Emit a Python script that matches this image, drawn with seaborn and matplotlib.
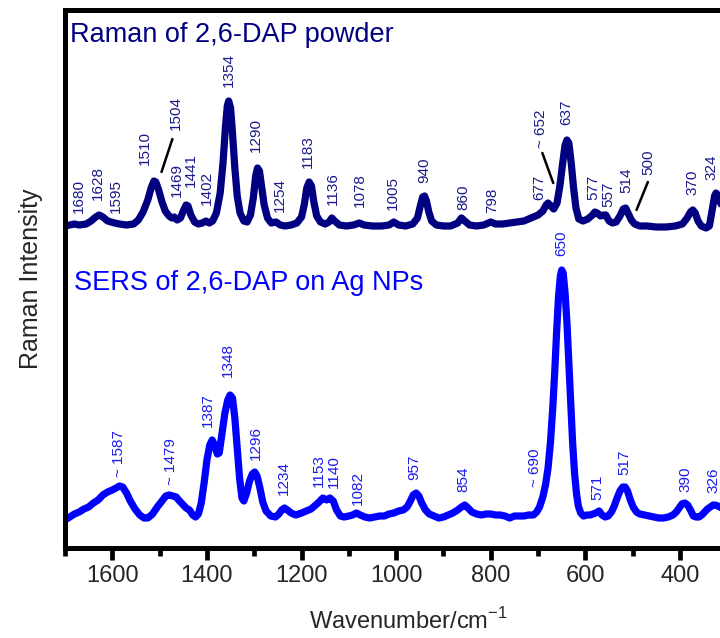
import numpy as np
import pandas as pd
import matplotlib
matplotlib.use("Agg")
import matplotlib.pyplot as plt
from matplotlib.ticker import MultipleLocator
import seaborn as sns

# ---------------- data ----------------
raman_wn = [1700, 1690, 1680, 1670, 1655, 1645, 1635, 1628, 1620, 1610, 1595, 1585, 1570, 1555,
            1545, 1535, 1525, 1518, 1512, 1508, 1502, 1495, 1488, 1480, 1474, 1469, 1463, 1456,
            1450, 1444, 1440, 1434, 1426, 1418, 1410, 1402, 1395, 1388, 1380, 1372, 1366, 1361,
            1357, 1354, 1350, 1346, 1341, 1336, 1330, 1322, 1315, 1308, 1302, 1297, 1293, 1289,
            1284, 1279, 1272, 1264, 1254, 1245, 1235, 1222, 1210, 1200, 1194, 1189, 1184, 1179,
            1174, 1168, 1160, 1150, 1142, 1136, 1130, 1120, 1105, 1090, 1078, 1068, 1050, 1030,
            1015, 1005, 995, 980, 965, 955, 949, 944, 940, 936, 931, 925, 915, 900, 885, 870,
            862, 855, 845, 830, 815, 800, 790, 775, 760, 745, 730, 715, 700, 690, 683, 679, 673,
            667, 660, 654, 648, 643, 639, 635, 630, 625, 620, 614, 605, 595, 585, 580, 575, 568,
            562, 557, 550, 543, 535, 527, 520, 515, 510, 503, 496, 485, 470, 450, 430, 410, 395,
            385, 378, 373, 368, 362, 355, 345, 338, 332, 327, 324, 320, 312, 305]
raman_int = [322, 323, 324, 323, 324, 327, 331, 333, 331, 327, 325, 324, 323, 324,
             328, 336, 348, 360, 367, 366, 358, 346, 337, 332, 330, 331, 328, 330,
             337, 343, 342, 333, 326, 324, 325, 327, 325, 327, 335, 355, 385, 420,
             442, 447, 440, 415, 380, 352, 335, 327, 326, 333, 350, 372, 380, 377,
             360, 343, 330, 325, 326, 323, 322, 323, 325, 331, 344, 360, 366, 362,
             346, 332, 326, 324, 326, 330, 327, 323, 322, 323, 325, 323, 322, 322,
             323, 326, 323, 322, 324, 330, 342, 351, 352, 347, 336, 327, 323, 322, 322, 325,
             330, 327, 323, 322, 323, 326, 324, 324, 325, 326, 327, 330, 333, 337, 343, 345, 342,
             339, 345, 362, 385, 403, 408, 405, 385, 360, 340, 329, 327, 329, 333, 336, 335, 332,
             333, 333, 327, 325, 326, 332, 339, 340, 335, 328, 324, 322, 322, 321, 321, 322, 324,
             330, 336, 338, 335, 327, 322, 320, 322, 338, 352, 355, 353, 342, 330]

sers_wn = [1700, 1690, 1680, 1670, 1660, 1650, 1640, 1630, 1620, 1610, 1600, 1592, 1585, 1578,
           1570, 1562, 1552, 1542, 1533, 1525, 1515, 1505, 1495, 1487, 1480, 1472, 1465, 1458,
           1450, 1444, 1437, 1430, 1424, 1418, 1412, 1406, 1400, 1394, 1389, 1384, 1378, 1374,
           1368, 1362, 1356, 1351, 1346, 1341, 1336, 1331, 1326, 1322, 1316, 1310, 1304, 1299,
           1294, 1288, 1282, 1275, 1265, 1255, 1248, 1242, 1236, 1230, 1222, 1212, 1200, 1190,
           1180, 1170, 1163, 1155, 1147, 1140, 1133, 1126, 1118, 1110, 1100, 1092, 1084, 1076,
           1066, 1056, 1046, 1035, 1025, 1015, 1005, 995, 985, 977, 970, 964, 958, 952, 946,
           938, 930, 920, 910, 900, 890, 880, 870, 862, 855, 848, 840, 830, 820, 810, 800, 790,
           780, 770, 760, 750, 740, 730, 720, 710, 703, 697, 690, 684, 679, 674, 669, 665, 661,
           657, 653, 650, 647, 643, 639, 635, 631, 627, 623, 619, 615, 610, 604, 597, 590, 584,
           578, 571, 565, 558, 552, 545, 539, 533, 527, 521, 516, 511, 505, 499, 492, 485, 475,
           465, 455, 445, 435, 425, 415, 408, 402, 396, 390, 384, 378, 372, 366, 360, 354, 348,
           342, 336, 330, 326, 320, 312, 305]
sers_int = [28, 31, 34, 36, 39, 41, 45, 48, 53, 56, 58, 60, 62, 61,
            55, 47, 39, 33, 30, 30, 34, 41, 47, 52, 53, 52, 51, 47,
            43, 40, 38, 33, 31, 34, 45, 65, 88, 103, 108, 103, 94, 95,
            115, 135, 148, 153, 150, 130, 100, 70, 50, 47, 55, 67, 74, 76,
            72, 60, 46, 37, 32, 31, 34, 38, 40, 38, 35, 33, 35, 37,
            39, 43, 46, 50, 48, 50, 47, 38, 32, 31, 32, 33, 35, 33,
            31, 30, 31, 32, 32, 34, 35, 37, 38, 41, 47, 53, 55, 52, 45,
            38, 34, 32, 30, 31, 33, 35, 38, 41, 43, 40, 36, 34, 33, 34, 34, 33,
            33, 32, 30, 32, 32, 32, 33, 33, 36, 41, 51, 64, 80, 105, 140, 175, 215,
            250, 272, 278, 275, 255, 225, 185, 145, 105, 75, 55, 42, 35, 32, 33, 33, 34,
            35, 37, 33, 31, 32, 36, 42, 50, 57, 61, 61, 57, 48, 41, 36, 34, 33,
            32, 31, 30, 30, 31, 33, 36, 40, 44, 45, 43, 38, 32, 31, 31, 33, 36,
            39, 41, 43, 43, 42, 40, 38]

raman_labels = ['1680', '1628', '1595', '1510', '1504', '1469', '1441', '1402', '1354', '1290',
                '1254', '1183', '1136', '1078', '1005', '940', '860', '798', '677', '~ 652',
                '637', '577', '557', '514', '500', '370', '324']
raman_label_x = [1671, 1630, 1592, 1532, 1466, 1463, 1433, 1401, 1354, 1296,
                 1246, 1187, 1134, 1077, 1008, 940, 859, 797, 697, 693,
                 640, 584, 552, 513, 468, 374, 334]
raman_label_y = [335, 348, 335, 383, 418, 351, 361, 343, 461, 396,
                 336, 380, 343, 341, 338, 365, 338, 335, 348, 400,
                 423, 348, 341, 355, 373, 353, 368]

sers_labels = ['~ 1587', '~ 1479', '1387', '1348', '1296', '1234', '1153', '1140', '1082',
               '957', '854', '~ 690', '650', '571', '517', '390', '326']
sers_label_x = [1586, 1477, 1399, 1356, 1296, 1237, 1163, 1132, 1081,
                961, 857, 707, 651, 575, 517, 388, 330]
sers_label_y = [71, 63, 121, 171, 88, 53, 61, 60, 43,
                68, 56, 61, 292, 48, 73, 56, 55]

# leader lines (x0, y0, x1, y1)
leader_lines = [(1473, 409, 1496, 376), (691, 395, 668, 365), (468, 366, 492, 338)]

x_ticks = [1600, 1400, 1200, 1000, 800, 600, 400]

# ---------------- style ----------------
sns.set_style("white")
plt.rcParams['font.family'] = ['Liberation Sans', 'DejaVu Sans']
plt.rcParams['mathtext.fontset'] = 'custom'
plt.rcParams['mathtext.rm'] = 'Liberation Sans'

navy = '#000080'
blue = '#0000ff'

fig = plt.figure(figsize=(7.2, 6.38), dpi=100)
ax = fig.add_axes([65 / 720, 90 / 638, 686 / 720, 538 / 638])

df_r = pd.DataFrame({'wn': raman_wn, 'I': raman_int})
df_s = pd.DataFrame({'wn': sers_wn, 'I': sers_int})
sns.lineplot(data=df_r, x='wn', y='I', ax=ax, color=navy, lw=5.2, estimator=None,
             solid_capstyle='round', solid_joinstyle='round')
sns.lineplot(data=df_s, x='wn', y='I', ax=ax, color=blue, lw=5.2, estimator=None,
             solid_capstyle='round', solid_joinstyle='round')

for t, x, y in zip(raman_labels, raman_label_x, raman_label_y):
    ax.text(x, y, t, rotation=90, ha='center', va='bottom', fontsize=11, color='#1a1a8a')
for t, x, y in zip(sers_labels, sers_label_x, sers_label_y):
    ax.text(x, y, t, rotation=90, ha='center', va='bottom', fontsize=11, color='#1a1aee')
for x0, y0, x1, y1 in leader_lines:
    ax.plot([x0, x1], [y0, y1], color='black', lw=1.8)

ax.text(0.0075, 0.9405, 'Raman of 2,6-DAP powder', transform=ax.transAxes,
        fontsize=19.5, color=navy, ha='left', va='baseline')
ax.text(0.013, 0.4796, 'SERS of 2,6-DAP on Ag NPs', transform=ax.transAxes,
        fontsize=19.5, color=blue, ha='left', va='baseline')

ax.set_xlim(1700, 250)
ax.set_ylim(0, 538)
ax.set_xticks(x_ticks)
ax.xaxis.set_minor_locator(MultipleLocator(100))
ax.set_yticks([])
ax.tick_params(axis='x', which='major', direction='out', length=8.5, width=3.4,
               labelsize=17, pad=4, bottom=True, color='black')
ax.tick_params(axis='x', which='minor', direction='out', length=5.5, width=3.4,
               bottom=True, color='black')
for s in ax.spines.values():
    s.set_linewidth(3.6)
    s.set_color('black')
ax.set_xlabel(r'Wavenumber/cm$^{\mathregular{-1}}$', fontsize=17, labelpad=15)
ax.set_ylabel('Raman Intensity', fontsize=18, labelpad=16)

fig.savefig('out.png', dpi=100)
